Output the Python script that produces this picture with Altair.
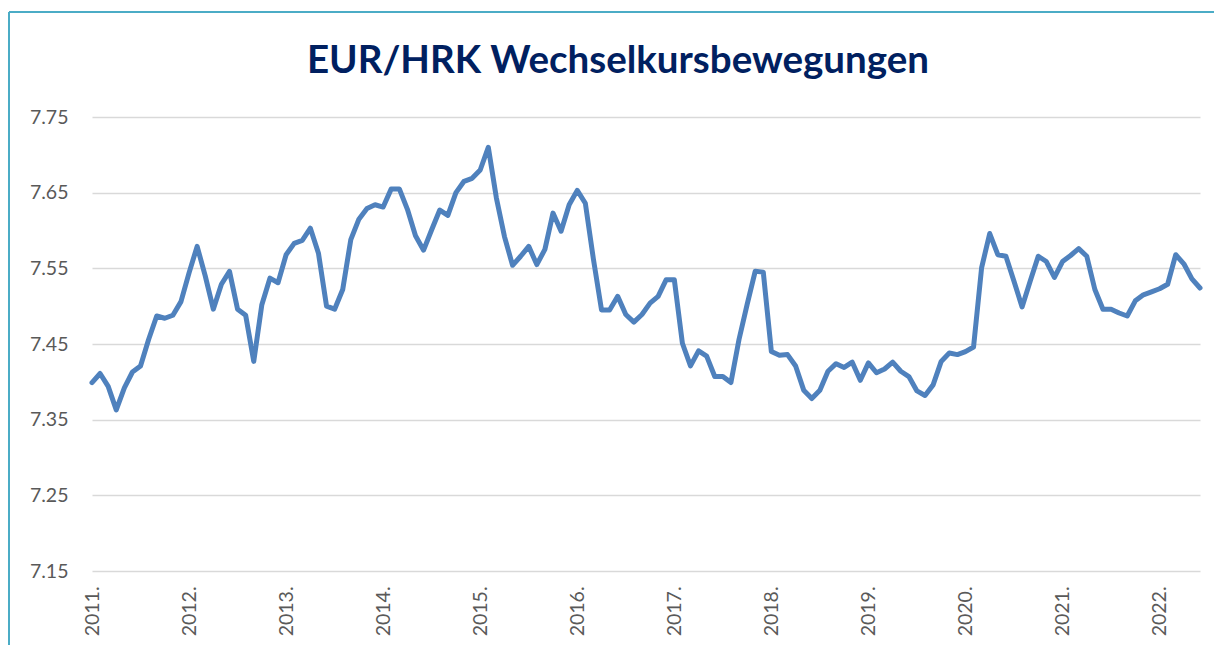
import altair as alt
import pandas as pd

# Year tick labels (one per January)
year_labels = ["2011.", "2012.", "2013.", "2014.", "2015.", "2016.",
               "2017.", "2018.", "2019.", "2020.", "2021.", "2022."]

# Monthly EUR/HRK rate, Jan 2011 .. Jun 2022
eurhrk = [
    7.399, 7.411, 7.394, 7.363, 7.392, 7.413, 7.421, 7.456, 7.487, 7.484, 7.488, 7.506,
    7.544, 7.579, 7.540, 7.496, 7.529, 7.546, 7.496, 7.488, 7.427, 7.502, 7.537, 7.531,
    7.568, 7.583, 7.587, 7.603, 7.570, 7.500, 7.496, 7.522, 7.588, 7.615, 7.629, 7.634,
    7.631, 7.655, 7.655, 7.628, 7.593, 7.574, 7.601, 7.627, 7.620, 7.650, 7.665, 7.669,
    7.680, 7.710, 7.643, 7.592, 7.554, 7.566, 7.579, 7.555, 7.575, 7.623, 7.599, 7.634,
    7.653, 7.636, 7.562, 7.495, 7.495, 7.513, 7.489, 7.479, 7.489, 7.504, 7.513, 7.535,
    7.535, 7.451, 7.421, 7.441, 7.434, 7.407, 7.407, 7.399, 7.456, 7.502, 7.546, 7.545,
    7.440, 7.435, 7.436, 7.421, 7.389, 7.378, 7.389, 7.414, 7.424, 7.419, 7.426, 7.402,
    7.425, 7.412, 7.417, 7.426, 7.414, 7.407, 7.388, 7.382, 7.396, 7.427, 7.438, 7.436,
    7.440, 7.446, 7.551, 7.596, 7.568, 7.566, 7.533, 7.499, 7.533, 7.566, 7.559, 7.538,
    7.559, 7.567, 7.576, 7.566, 7.522, 7.496, 7.496, 7.491, 7.487, 7.507, 7.515, 7.519,
    7.523, 7.529, 7.568, 7.556, 7.536, 7.524,
]

y_ticks = [7.15, 7.25, 7.35, 7.45, 7.55, 7.65, 7.75]

df = pd.DataFrame({"m": list(range(len(eurhrk))), "kurs": eurhrk})

W, H = 1108, 454
LABEL_COLOR = "#595959"
FONT = "Lato"

label_expr = "[" + ",".join("'%s'" % l for l in year_labels) + "][round(datum.value/12)]"
x_ticks = [12 * i for i in range(len(year_labels))]

line = alt.Chart(df).mark_line(
    color="#4F81BD", strokeWidth=5, strokeJoin="round", strokeCap="round"
).encode(
    x=alt.X("m:Q",
            scale=alt.Scale(domain=[0, len(eurhrk) - 1], nice=False, zero=False),
            axis=alt.Axis(values=x_ticks, labelExpr=label_expr, labelAngle=270,
                          ticks=False, domain=False, grid=False, labelPadding=15,
                          labelFontSize=19.5, labelColor=LABEL_COLOR, labelFont=FONT,
                          title=None)),
    y=alt.Y("kurs:Q",
            scale=alt.Scale(domain=[7.15, 7.75], nice=False, zero=False),
            axis=alt.Axis(values=y_ticks, format=".2f", ticks=False, domain=False,
                          grid=True, gridColor="#D9D9D9", gridWidth=1.3,
                          labelPadding=24, labelFontSize=19.5, labelColor=LABEL_COLOR,
                          labelFont=FONT, title=None)),
)

frame = alt.Data(values=[{"a": 1}])
BORDER = "#4BACC6"
left_border = alt.Chart(frame).mark_rule(color=BORDER, strokeWidth=2).encode(
    x=alt.value(-83), y=alt.value(-105), y2=alt.value(528))
top_border = alt.Chart(frame).mark_rule(color=BORDER, strokeWidth=2).encode(
    x=alt.value(-83), x2=alt.value(1122), y=alt.value(-105))

chart = alt.layer(left_border, top_border, line).properties(
    width=W, height=H,
    background="white",
    title=alt.TitleParams("EUR/HRK Wechselkursbewegungen", font=FONT, fontSize=38.5,
                          fontWeight="bold", color="#002060", anchor="middle",
                          frame="group", dx=-28, offset=-70),
    padding={"left": 8, "top": 11, "right": 0, "bottom": 0},
    autosize=alt.AutoSizeParams(type="pad"),
).configure_view(strokeWidth=0, stroke="transparent")

chart.save("out.html", embed_options={"renderer": "svg", "actions": False})
